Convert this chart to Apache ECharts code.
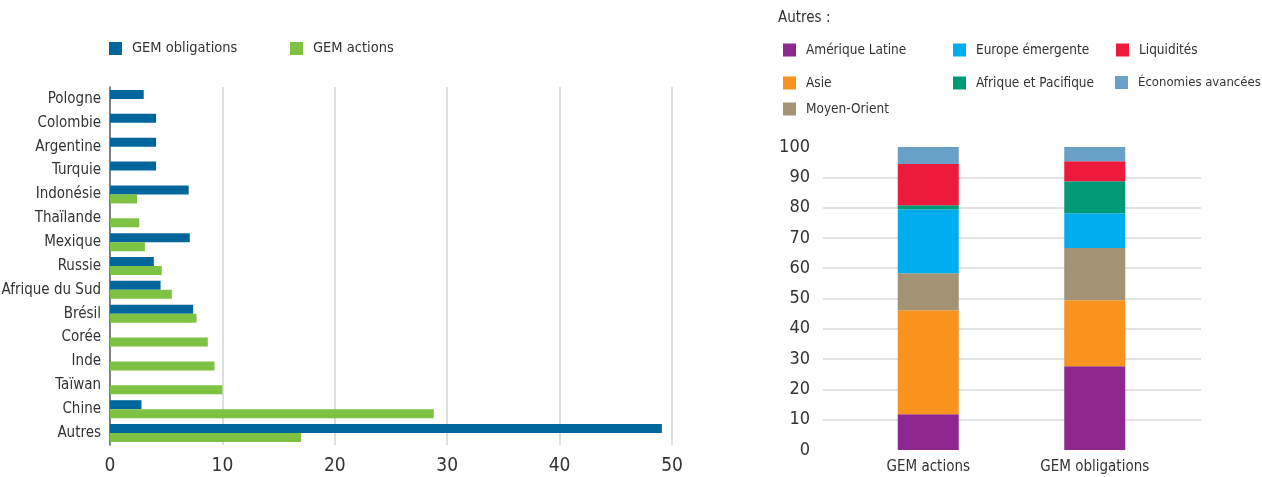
<!DOCTYPE html>
<html>
<head>
<meta charset="utf-8">
<script src="https://cdn.jsdelivr.net/npm/echarts@6/dist/echarts.min.js"></script>
<style>
  html, body { margin: 0; padding: 0; background: #fff; }
  #chart { width: 1262px; height: 477px; }
</style>
</head>
<body>
<div id="chart"></div>
<script>
// Left panel: country weights (%), listed top to bottom
const countries = ['Pologne', 'Colombie', 'Argentine', 'Turquie', 'Indonésie', 'Thaïlande', 'Mexique',
  'Russie', 'Afrique du Sud', 'Brésil', 'Corée', 'Inde', 'Taïwan', 'Chine', 'Autres'];
const gemObligations = [3.0, 4.1, 4.1, 4.1, 7.0, null, 7.1, 3.9, 4.5, 7.4, null, null, null, 2.8, 49.1];
const gemActions = [null, null, null, null, 2.4, 2.6, 3.1, 4.6, 5.5, 7.7, 8.7, 9.3, 10.0, 28.8, 17.0];

// Right panel: breakdown of "Autres" (%), stacked bottom to top
const portfolios = ['GEM actions', 'GEM obligations'];
const regions = ['Amérique Latine', 'Asie', 'Moyen-Orient', 'Europe émergente',
  'Afrique et Pacifique', 'Liquidités', 'Économies avancées'];
const ameriqueLatine = [11.8, 27.6];
const asie = [34.3, 21.8];
const moyenOrient = [12.2, 17.3];
const europeEmergente = [21.1, 11.4];
const afriquePacifique = [1.4, 10.6];
const liquidites = [13.6, 6.6];
const economiesAvancees = [5.6, 4.7];
const regionValues = [ameriqueLatine, asie, moyenOrient, europeEmergente,
  afriquePacifique, liquidites, economiesAvancees];

const regionColors = ['#8E278F', '#F7931E', '#A39273', '#00AEEF', '#009A77', '#ED1A3B', '#68A0C8'];
const FONT = "'Liberation Sans Narrow', 'DejaVu Sans Condensed', sans-serif";
const TXT = '#333333';

const chart = echarts.init(document.getElementById('chart'), null, { renderer: 'canvas' });

function legendItem(name, left, top, size) {
  return {
    data: [name], left, top, padding: 0, icon: 'rect', itemWidth: 13, itemHeight: 13,
    textStyle: { fontFamily: FONT, fontSize: size, color: TXT, padding: [0, 0, 0, 5] },
    selectedMode: false
  };
}

// legend slots for the right panel: [series index, left, top, font size]
const legendSlots = [
  [0, 783, 43, 13.5], [3, 953, 43, 13.5], [5, 1116, 43, 13.5],
  [1, 783, 76, 13.5], [4, 953, 76, 13.5], [6, 1115, 76, 13],
  [2, 783, 102, 13.5]
];

const option = {
  animation: false,
  backgroundColor: '#fff',
  textStyle: { fontFamily: FONT },
  title: {
    text: 'Autres :', left: 778, top: 11, padding: 0,
    textStyle: { fontFamily: FONT, fontSize: 15, fontWeight: 'normal', color: TXT }
  },
  legend: [
    legendItem('GEM obligations', 109, 41, 14.5),
    legendItem('GEM actions', 290, 41, 14.5)
  ].concat(legendSlots.map(([i, l, t, s]) => legendItem(regions[i], l, t, s))),
  grid: [
    { left: 110, top: 87, width: 562, height: 358, outerBoundsMode: 'none' },   // left bars
    { left: 823, top: 147, width: 378, height: 303, outerBoundsMode: 'none' },  // right split lines + y labels
    { left: 845, top: 147, width: 333, height: 303, outerBoundsMode: 'none' }   // right bars
  ],
  xAxis: [
    {
      gridIndex: 0, type: 'value', min: 0, max: 50, interval: 10,
      axisLine: { show: false }, axisTick: { show: false },
      axisLabel: { color: TXT, fontSize: 19, margin: 12, fontFamily: FONT },
      splitLine: { show: true, showMinLine: false, lineStyle: { color: '#d4d4d4', width: 1.5 } }
    },
    {
      gridIndex: 1, type: 'value', min: 0, max: 1, show: false
    },
    {
      gridIndex: 2, type: 'category', data: portfolios,
      axisLine: { show: false }, axisTick: { show: false },
      axisLabel: { color: TXT, fontSize: 15, margin: 10, interval: 0, fontFamily: FONT }
    }
  ],
  yAxis: [
    {
      gridIndex: 0, type: 'category', data: countries, inverse: true,
      axisLine: { show: true, lineStyle: { color: '#555', width: 1.5 } },
      axisTick: { show: false },
      axisLabel: { color: TXT, fontSize: 15, margin: 9, interval: 0, fontFamily: FONT }
    },
    {
      gridIndex: 1, type: 'value', min: 0, max: 100, interval: 10,
      axisLine: { show: false }, axisTick: { show: false },
      axisLabel: { color: TXT, fontSize: 18, margin: 13, fontFamily: FONT },
      splitLine: { show: true, showMinLine: false, showMaxLine: false,
        lineStyle: { color: '#d9d9d9', width: 1.5 } }
    },
    {
      gridIndex: 2, type: 'value', min: 0, max: 100, interval: 10, show: false
    }
  ],
  series: [
    {
      name: 'GEM obligations', type: 'bar', xAxisIndex: 0, yAxisIndex: 0,
      data: gemObligations, barWidth: 9, barGap: '0%',
      itemStyle: { color: '#00669C' }
    },
    {
      name: 'GEM actions', type: 'bar', xAxisIndex: 0, yAxisIndex: 0,
      data: gemActions, barWidth: 9, barGap: '0%',
      itemStyle: { color: '#7DC242' }
    }
  ].concat(regions.map((name, i) => ({
    name, type: 'bar', xAxisIndex: 2, yAxisIndex: 2, stack: 'autres',
    data: regionValues[i], barWidth: 61,
    itemStyle: { color: regionColors[i] }
  })))
};

chart.setOption(option);
</script>
</body>
</html>
